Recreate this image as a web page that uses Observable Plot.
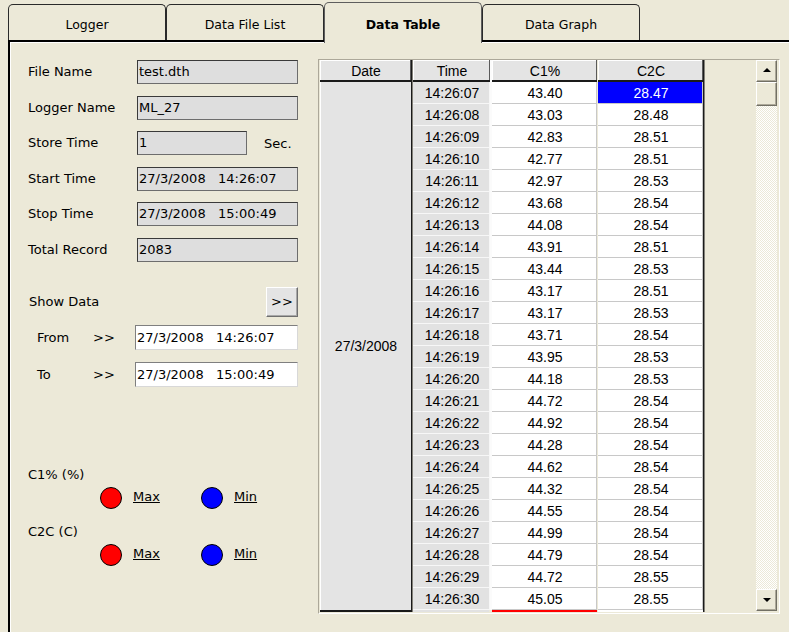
<!DOCTYPE html>
<html><head><meta charset="utf-8">
<script src="https://cdn.jsdelivr.net/npm/d3@7"></script>
<script src="https://cdn.jsdelivr.net/npm/@observablehq/plot@0.6"></script>
<style>
html,body{margin:0;padding:0;background:#ECE9D8;}
#app{position:relative;width:789px;height:632px;overflow:hidden;font-family:"DejaVu Sans",sans-serif;font-size:13px;color:#000;background:#ECE9D8;}
.tab{position:absolute;top:4px;height:37px;box-sizing:border-box;border:1px solid #2a2a2a;border-bottom:none;border-radius:5px 5px 0 0;background:#ECE9D8;text-align:center;line-height:40px;font-size:12.5px;z-index:1;}
.tab.sel{top:2px;height:41px;line-height:44px;font-weight:bold;z-index:3;border-color:#5e5e5e;}
#panel{position:absolute;left:8px;top:40px;width:800px;height:600px;border-top:2px solid #000;border-left:2px solid #000;box-sizing:border-box;box-shadow:inset 1px 1px #fff;z-index:2;}
.lbl{position:absolute;font-size:13px;line-height:16px;white-space:pre;z-index:4;}
.box{position:absolute;box-sizing:border-box;height:24px;border:1px solid #3a3a3a;border-right-color:#6d6d6d;border-bottom-color:#6d6d6d;background:#DEDEDE;font-size:13px;line-height:22px;padding-left:1px;white-space:pre;z-index:4;}
.wbox{background:#fff;border-color:#7f7f7f #d8d8d8 #d8d8d8 #7f7f7f;height:25px;line-height:23px;}
.btn{position:absolute;box-sizing:border-box;background:#E4E4E4;border:1px solid;border-color:#fff #6f6f6f #6f6f6f #fff;box-shadow:inset -1px -1px #a8a8a8;text-align:center;z-index:4;}
.dot{position:absolute;width:22px;height:22px;box-sizing:border-box;border:1px solid #000;border-radius:50%;z-index:4;}
.u{text-decoration:underline;}
#frame{position:absolute;left:318px;top:59px;width:462px;height:555px;box-sizing:border-box;border:1px solid;border-color:#ACA899 #fff #fff #ACA899;z-index:3;}
.sb{position:absolute;left:756px;width:21px;box-sizing:border-box;background:#ECE9D8;border:1px solid;border-color:#fff #716F64 #716F64 #fff;box-shadow:inset -1px -1px #ACA899;z-index:5;}
.tri{position:absolute;left:6px;width:0;height:0;border-left:4px solid transparent;border-right:4px solid transparent;}
#track{position:absolute;left:756px;top:106px;width:21px;height:483px;background:repeating-conic-gradient(#fff 0 25%, #ECE9D8 0 50%) 0 0/2px 2px;z-index:4;}
</style>
</head>
<body>
<div id="app"><div id="panel"></div><div id="frame"></div></div>
<script>
// ---------- data ----------
const tabs = ["Logger", "Data File List", "Data Table", "Data Graph"];
const selectedTab = "Data Table";
const fieldLabels = ["File Name", "Logger Name", "Store Time", "Start Time", "Stop Time", "Total Record"];
const fieldValues = ["test.dth", "ML_27", "1", "27/3/2008   14:26:07", "27/3/2008   15:00:49", "2083"];
const storeUnit = "Sec.";
const showFrom = "27/3/2008   14:26:07";
const showTo = "27/3/2008   15:00:49";
const channels = ["C1% (%)", "C2C (C)"];
const columns = ["Date", "Time", "C1%", "C2C"];
const dateLabel = "27/3/2008";
const times = ["14:26:07","14:26:08","14:26:09","14:26:10","14:26:11","14:26:12","14:26:13","14:26:14",
  "14:26:15","14:26:16","14:26:17","14:26:18","14:26:19","14:26:20","14:26:21","14:26:22",
  "14:26:23","14:26:24","14:26:25","14:26:26","14:26:27","14:26:28","14:26:29","14:26:30"];
const c1 = [43.40,43.03,42.83,42.77,42.97,43.68,44.08,43.91,43.44,43.17,43.17,43.71,
  43.95,44.18,44.72,44.92,44.28,44.62,44.32,44.55,44.99,44.79,44.72,45.05];
const c2 = [28.47,28.48,28.51,28.51,28.53,28.54,28.54,28.51,28.53,28.51,28.53,28.54,
  28.53,28.53,28.54,28.54,28.54,28.54,28.54,28.54,28.54,28.54,28.55,28.55];
const selectedCell = {col: "C2C", time: "14:26:07"};
const flaggedCell = {col: "C1%", time: "14:26:30"};

// ---------- layout (not data) ----------
const app = document.getElementById("app");
function el(cls, css, text) {
  const d = document.createElement("div");
  d.className = cls; d.style.cssText = css;
  if (text != null) d.textContent = text;
  app.appendChild(d); return d;
}
tabs.forEach((t, i) => {
  el("tab" + (t === selectedTab ? " sel" : ""), `left:${8 + i * 158}px;width:${158}px;`, t);
});
fieldLabels.forEach((f, i) => {
  const top = Math.round(60 + i * 35.6);
  el("lbl", `left:28px;top:${top + 4}px;`, f);
  el("box", `left:137px;top:${top}px;width:${i === 2 ? 110 : 161}px;`, fieldValues[i]);
});
el("lbl", "left:264px;top:136px;", storeUnit);
el("lbl", "left:29px;top:294px;", "Show Data");
el("btn", "left:266px;top:287px;width:32px;height:30px;line-height:28px;font-size:13px;", ">>");
el("lbl", "left:37px;top:330px;", "From");
el("lbl", "left:93px;top:330px;", ">>");
el("box wbox", "left:135px;top:325px;width:163px;", showFrom);
el("lbl", "left:37px;top:367px;", "To");
el("lbl", "left:93px;top:367px;", ">>");
el("box wbox", "left:135px;top:362px;width:163px;", showTo);
channels.forEach((c, i) => {
  const cy = 498 + i * 57;
  el("lbl", `left:28px;top:${cy - 31}px;`, c);
  el("dot", `left:100px;top:${cy - 11}px;background:#FF0000;`);
  el("lbl u", `left:133px;top:${cy - 9}px;`, "Max");
  el("dot", `left:201px;top:${cy - 11}px;background:#0000FF;`);
  el("lbl u", `left:234px;top:${cy - 9}px;`, "Min");
});
// scrollbar
const up = el("sb", "top:60px;height:22px;");
const t1 = document.createElement("div"); t1.className = "tri"; t1.style.cssText = "top:7px;border-bottom:4px solid #000;"; up.appendChild(t1);
el("sb", "top:82px;height:24px;");
el("", "", null).id = "track";
const dn = el("sb", "top:589px;height:22px;");
const t2 = document.createElement("div"); t2.className = "tri"; t2.style.cssText = "top:8px;border-top:4px solid #000;"; dn.appendChild(t2);

// ---------- table drawn with Plot ----------
const L = {Date: [2, 93], Time: [95, 172], "C1%": [174, 279], C2C: [280, 385]};
const rowsY = ["hdr", ...times];
const last = times[times.length - 1];
const cells = times.flatMap((t, i) => [
  {time: t, col: "C1%", value: c1[i]},
  {time: t, col: "C2C", value: c2[i]}
]);
const isSel = d => d.col === selectedCell.col && d.time === selectedCell.time;
const cx1 = c => L[c][0], cx2 = c => L[c][1], cxm = c => (L[c][0] + L[c][1]) / 2;
const hdr = () => "hdr";

const chart = Plot.plot({
  width: 388, height: 555, margin: 0,
  x: {type: "linear", domain: [0, 388], range: [0, 388], axis: null},
  y: {type: "band", domain: rowsY, range: [1, 551], paddingInner: 0, paddingOuter: 0, axis: null},
  color: {type: "identity"},
  style: {background: "transparent", fontFamily: "Liberation Sans, Arial, sans-serif", fontSize: "14px", color: "#000", overflow: "visible"},
  marks: [
    // header row
    Plot.barX(columns, {x1: cx1, x2: cx2, y: hdr, fill: "#E4E4E4"}),
    Plot.barX(columns, {x1: cx1, x2: cx2, y: hdr, insetBottom: 21, fill: "#ffffff"}),
    Plot.barX(columns, {x1: cx1, x2: c => L[c][0] + 1, y: hdr, fill: "#ffffff"}),
    Plot.barX(columns, {x1: c => L[c][1] - 1, x2: cx2, y: hdr, fill: "#5a5a5a"}),
    Plot.barX(columns, {x1: cx1, x2: cx2, y: hdr, insetTop: 20, fill: "#1a1a1a"}),
    Plot.text(columns, {x: cxm, y: hdr, text: d => d}),
    // date column (merged cell)
    Plot.barX(times, {x1: L.Date[0], x2: L.Date[1], y: d => d, fill: "#E4E4E4"}),
    Plot.barX(times, {x1: L.Date[0], x2: L.Date[0] + 1, y: d => d, fill: "#ffffff"}),
    Plot.barX(rowsY, {x1: L.Date[1], x2: L.Date[1] + 1.5, y: d => d, fill: "#1a1a1a"}),
    Plot.barX([last], {x1: L.Date[0], x2: L.Date[1] + 1.5, y: d => d, insetTop: 20, dy: 2, fill: "#1a1a1a"}),
    Plot.text([dateLabel], {x: cxm("Date"), y: () => times[11], dy: 11, text: d => d}),
    // time column
    Plot.barX(times, {x1: L.Time[0], x2: L.Time[1], y: d => d, fill: "#F7F7F7"}),
    Plot.barX(times, {x1: L.Time[0], x2: L.Time[1] - 1, y: d => d, insetBottom: 1, fill: "#E2E2E2"}),
    Plot.barX([last], {x1: L.Time[0], x2: L.Time[1] - 1, y: d => d, insetTop: 20, dy: 2, fill: "#E2E2E2"}),
    Plot.barX(rowsY, {x1: L.Time[1], x2: L["C1%"][0], y: d => d, fill: "#FBFBFB"}),
    Plot.text(times, {x: cxm("Time"), y: d => d, text: d => d}),
    // value cells
    Plot.barX(cells, {x1: d => L[d.col][0], x2: d => L[d.col][1], y: "time", fill: "#C8C8C8"}),
    Plot.barX(cells, {x1: d => L[d.col][0], x2: d => L[d.col][1], y: "time", insetBottom: 1, insetRight: 1,
      fill: d => isSel(d) ? "#0000FF" : "#FFFFFF"}),
    Plot.barX([last], {x1: L.C2C[0], x2: L.C2C[1], y: d => d, insetTop: 20, dy: 2, fill: "#FFFFFF"}),
    Plot.barX([flaggedCell], {x1: d => L[d.col][0], x2: d => L[d.col][1], y: d => d.time, insetTop: 20, dy: 2, fill: "#FF0000"}),
    Plot.text(cells, {x: d => cxm(d.col), y: "time", text: d => d.value.toFixed(2),
      fill: d => isSel(d) ? "#FFFFFF" : "#000000"}),
    Plot.barX(rowsY, {x1: L.C2C[1], x2: L.C2C[1] + 1.5, y: d => d, fill: "#1a1a1a"}),
    Plot.barX([last], {x1: L.C2C[1], x2: L.C2C[1] + 1.5, y: d => d, insetTop: 20, dy: 2, fill: "#1a1a1a"})
  ]
});
chart.style.position = "absolute";
chart.style.left = "318px";
chart.style.top = "59px";
chart.style.zIndex = "4";
app.appendChild(chart);
</script>
</body></html>
